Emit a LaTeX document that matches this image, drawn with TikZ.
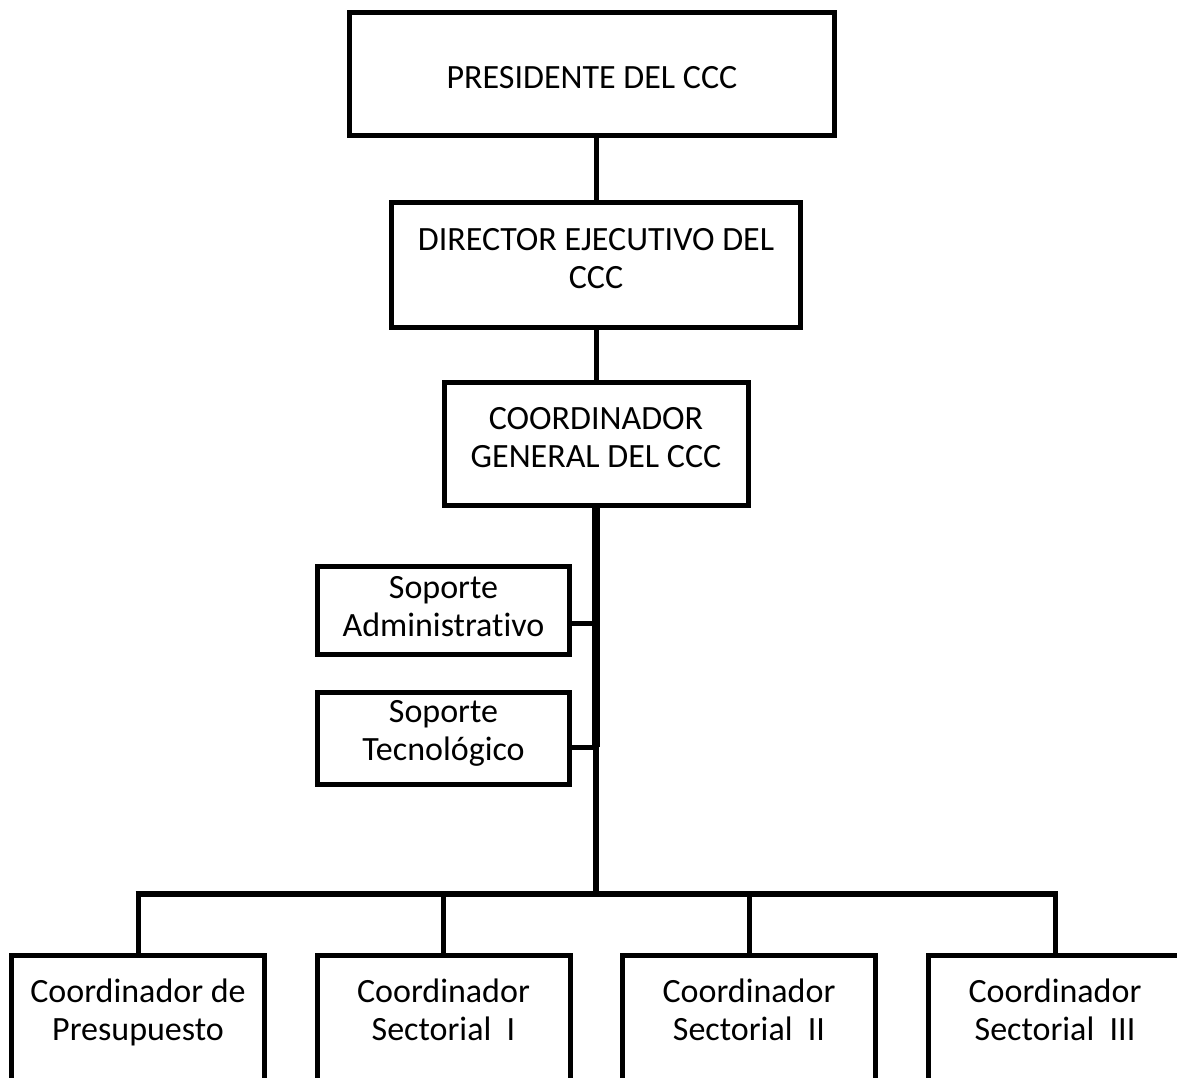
\documentclass[tikz,border=0pt]{standalone}
\usepackage{fontspec}
\setmainfont{Carlito}[Ligatures=NoCommon]
\begin{document}
\begin{tikzpicture}[x=1pt,y=-1pt,
  box/.style={draw=black,line width=5pt,fill=white,inner sep=0pt,minimum width=#1},
  lbl/.style={font=\fontsize{34}{38}\selectfont,align=center,inner sep=0pt,anchor=north},
  conn/.style={draw=black,line width=5pt},
  bar/.style={draw=black,line width=6pt}]
\useasboundingbox (0,0) rectangle (1177,1077);
\clip (0,0) rectangle (1177,1077);
% boxes
\node[box=485pt,minimum height=123pt] (pres) at (592,74) {};
\node[box=409pt,minimum height=125pt] (dir) at (596,265) {};
\node[box=304pt,minimum height=123pt] (cg) at (596,444) {};
\node[box=252pt,minimum height=88pt] (sa) at (443.5,610.5) {};
\node[box=252pt,minimum height=92pt] (st) at (443.5,738.5) {};
\node[box=253pt,minimum height=160pt] (b1) at (138,1035.5) {};
\node[box=253pt,minimum height=160pt] (b2) at (443.5,1035.5) {};
\node[box=253pt,minimum height=160pt] (b3) at (749,1035.5) {};
\node[box=253pt,minimum height=160pt] (b4) at (1055,1035.5) {};
% texts
\node[lbl] (pres-t) at (592,63) {\rule{0pt}{25pt}PRESIDENTE DEL CCC};
\node[lbl] (dir-t) at (596,225) {\rule{0pt}{25pt}DIRECTOR EJECUTIVO DEL\\CCC};
\node[lbl] (cg-t) at (596,404) {\rule{0pt}{25pt}COORDINADOR\\GENERAL DEL CCC};
\node[lbl] (sa-t) at (443.5,573) {\rule{0pt}{25pt}Soporte\\Administrativo};
\node[lbl] (st-t) at (443.5,697) {\rule{0pt}{25pt}Soporte\\Tecnológico};
\node[lbl] (b1-t) at (138,977) {\rule{0pt}{25pt}Coordinador de\\Presupuesto};
\node[lbl] (b2-t) at (443.5,977) {\rule{0pt}{25pt}Coordinador\\Sectorial~~I};
\node[lbl] (b3-t) at (749,977) {\rule{0pt}{25pt}Coordinador\\Sectorial~~II};
\node[lbl] (b4-t) at (1055,977) {\rule{0pt}{25pt}Coordinador\\Sectorial~~III};
% junctions
\coordinate (j1) at (596,623);
\coordinate (j2) at (596,747);
\coordinate (jb) at (596,894);
% connectors
\draw[conn] (dir.north |- pres.south) -- (dir.north);
\draw[conn] (dir.south) -- (cg.north);
\draw[draw=black,line width=8pt] (cg.south) -- (j2);
\draw[bar] (j2) -- (jb);
\draw[conn] (j1) -- (j1 -| sa.east);
\draw[conn] (j2) -- (j2 -| st.east);
\draw[bar] ([xshift=-2.5pt]b1.north |- jb) -- ([xshift=2.5pt]b4.north |- jb);
\draw[conn] (b1.north |- jb) -- (b1.north);
\draw[conn] (b2.north |- jb) -- (b2.north);
\draw[conn] (b3.north |- jb) -- (b3.north);
\draw[conn] (b4.north |- jb) -- (b4.north);
\end{tikzpicture}
\end{document}
